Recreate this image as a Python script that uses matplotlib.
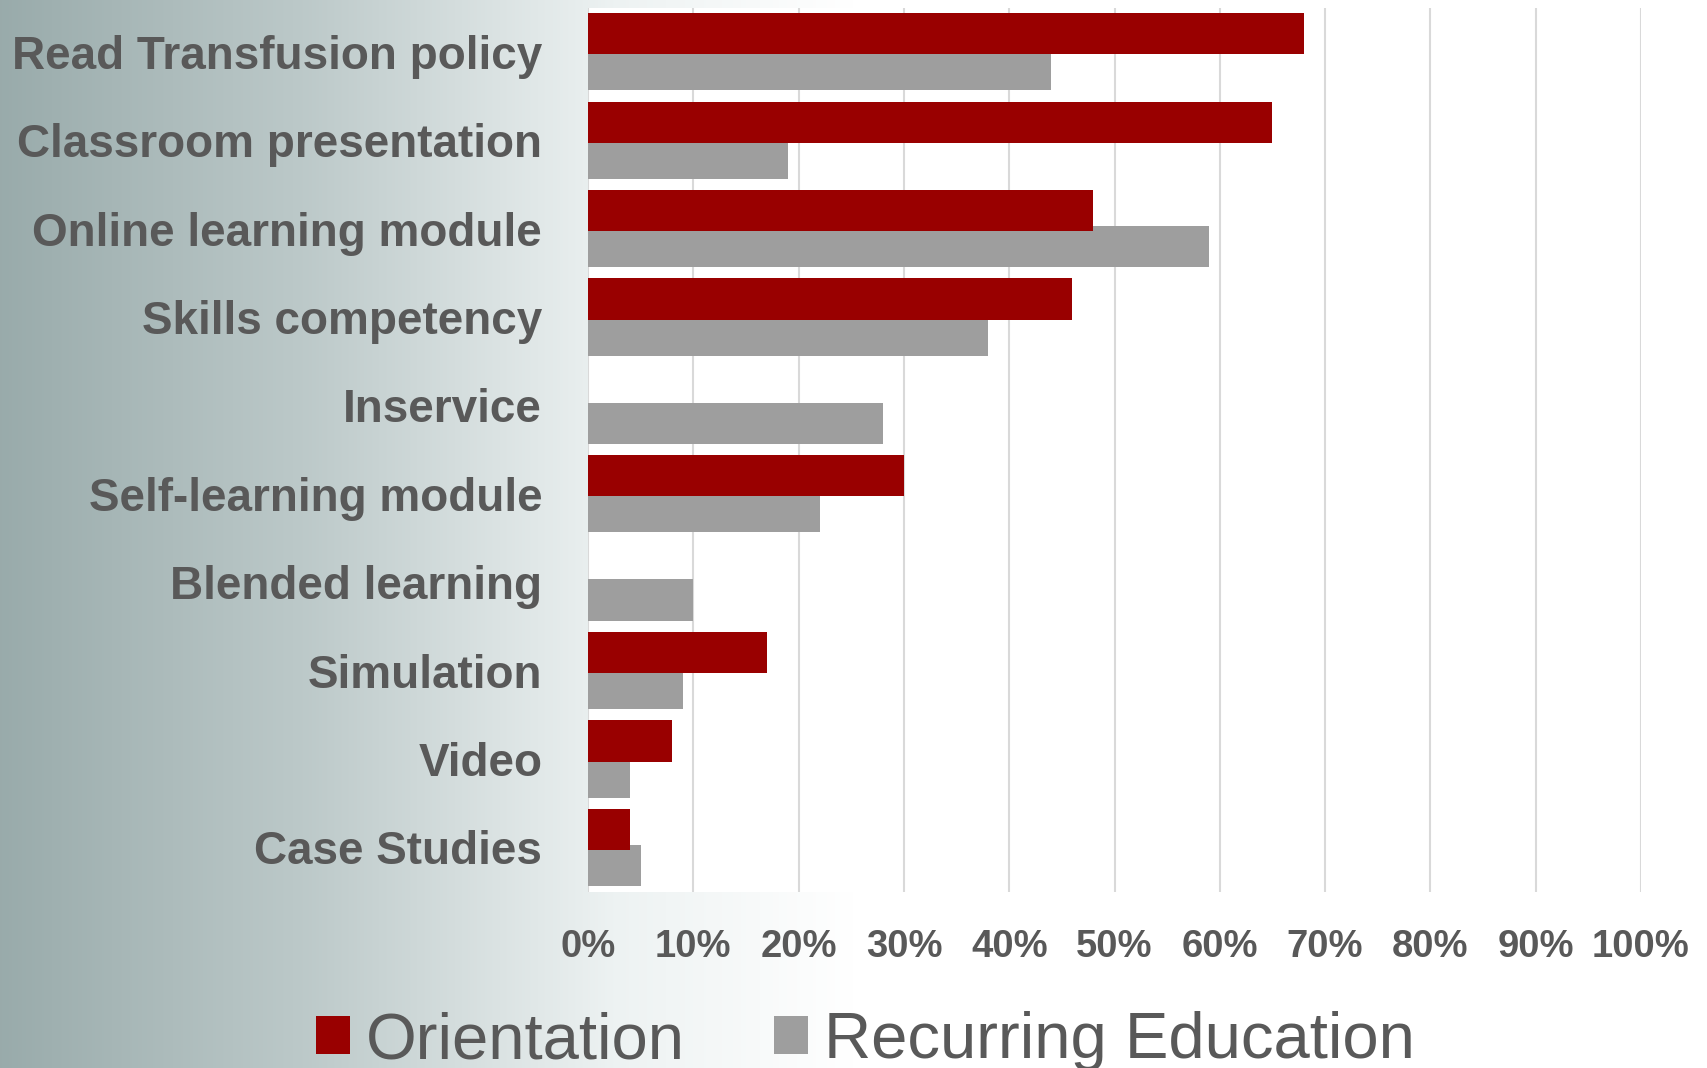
import numpy as np
import matplotlib.pyplot as plt

categories = ["Read Transfusion policy", "Classroom presentation", "Online learning module",
              "Skills competency", "Inservice", "Self-learning module", "Blended learning",
              "Simulation", "Video", "Case Studies"]
orientation = [68, 65, 48, 46, 0, 30, 0, 17, 8, 4]
recurring = [44, 19, 59, 38, 28, 22, 10, 9, 4, 5]
x_ticks = np.arange(0, 101, 10)
x_labels = [f"{v}%" for v in x_ticks]

RED = "#990000"
GRAY = "#9E9E9E"
TEXT = "#595959"
FONT = ["Liberation Sans", "DejaVu Sans"]

fig = plt.figure(figsize=(17.07, 10.68), dpi=100)

# left-to-right gradient background
bg = fig.add_axes([0, 0, 1, 1], zorder=-2)
xs = np.linspace(0, 1, 1707)
stops = [0.0, 0.18, 0.36, 0.5, 1.0]
cols = np.array([[0.60, 0.67, 0.67], [0.74, 0.79, 0.79], [0.93, 0.95, 0.95],
                 [1, 1, 1], [1, 1, 1]])
grad = np.stack([np.interp(xs, stops, cols[:, i]) for i in range(3)], axis=-1)
bg.imshow(grad[np.newaxis, :, :], extent=[0, 1, 0, 1], aspect="auto")
bg.axis("off")

ax = fig.add_axes([0.3445, 0.1652, 0.6168, 0.8277])
ax.set_facecolor("white")
y = np.arange(len(categories))
h = 0.467
off = 0.203
ax.barh(y + off, recurring, height=h, color=GRAY, label="Recurring Education", zorder=2)
ax.barh(y - off, orientation, height=h, color=RED, label="Orientation", zorder=3)

ax.set_ylim(len(categories) - 0.5, -0.5)
ax.set_xlim(0, 100)
ax.set_xticks(x_ticks)
ax.set_xticklabels(x_labels, family=FONT, fontweight="bold", fontsize=27.5, color=TEXT)
ax.set_yticks(y)
ax.set_yticklabels(categories, family=FONT, fontweight="bold", fontsize=33, color=TEXT)
ax.tick_params(axis="x", length=0, pad=27)
ax.tick_params(axis="y", length=0, pad=33)
ax.grid(axis="x", color="#D9D9D9", linewidth=1.5, zorder=0)
ax.set_axisbelow(True)
for s in ax.spines.values():
    s.set_visible(False)

handles, labels = ax.get_legend_handles_labels()
leg = fig.legend(handles[::-1], labels[::-1], loc="center", bbox_to_anchor=(0.507, 0.025),
                 ncol=2, frameon=False, handlelength=0.52, handleheight=0.52,
                 handletextpad=0.25, columnspacing=1.36, borderpad=0,
                 prop={"family": FONT, "size": 47})
for t in leg.get_texts():
    t.set_color(TEXT)

fig.savefig("out.png", dpi=100)
